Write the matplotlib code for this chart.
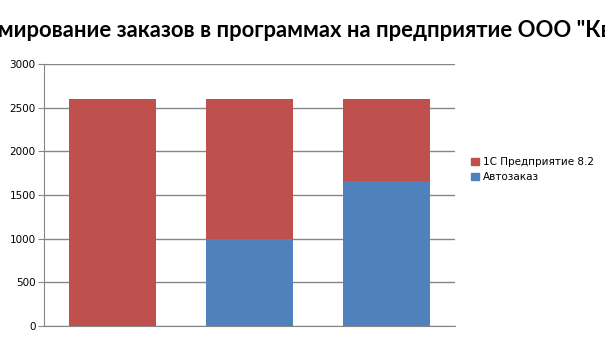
import matplotlib
matplotlib.use("Agg")
import matplotlib.pyplot as plt
from matplotlib.patches import Patch

categories = ["1", "2", "3"]
autozakaz = [0, 1000, 1660]
predpr_1c = [2600, 1600, 940]
series_names = ["1С Предприятие 8.2", "Автозаказ"]
yticks = [0, 500, 1000, 1500, 2000, 2500, 3000]

red = "#C0504D"
blue = "#4F81BD"
grid_c = "#868686"

fig = plt.figure(figsize=(6.05, 3.4), dpi=100)
ax = fig.add_axes([44 / 605, 1 - 326 / 340, 411 / 605, 262 / 340])

x = list(range(len(categories)))
ax.bar(x, autozakaz, width=0.635, color=blue, zorder=3)
ax.bar(x, predpr_1c, width=0.635, bottom=autozakaz, color=red, zorder=3)

ax.set_xlim(-0.5, len(categories) - 0.5)
ax.set_ylim(0, 3000)
ax.set_yticks(yticks)
ax.set_xticks([])
ax.yaxis.grid(True, color=grid_c, linewidth=1, zorder=0)
for s in ["top", "right"]:
    ax.spines[s].set_visible(False)
for s in ["left", "bottom"]:
    ax.spines[s].set_color(grid_c)
ax.tick_params(axis="y", length=4, color=grid_c, labelsize=7.5, pad=2,
               labelcolor="black")
for lbl in ax.get_yticklabels():
    lbl.set_family("DejaVu Sans")

handles = [Patch(color=red), Patch(color=blue)]
fig.legend(handles, series_names, loc="upper left",
           bbox_to_anchor=(466 / 605, 1 - 152 / 340), frameon=False,
           prop={"family": "DejaVu Sans", "size": 7.5},
           handlelength=0.7, handleheight=0.7, handletextpad=0.4,
           labelspacing=0.45, borderpad=0)

# title is wider than the figure; shift it so the first letters fall off the left edge
title = "Формирование заказов в программах на предприятие ООО \"Квант\""
fs = 15.8
fig.canvas.draw()
r = fig.canvas.get_renderer()
probe = fig.text(0, 0, "Фор", fontsize=fs, fontweight="bold", family="Lato")
w = probe.get_window_extent(r).width
probe.remove()
fig.text((-w - 2) / 605, 1 - 37 / 340, title, fontsize=fs,
         fontweight="bold", family="Lato", ha="left", va="baseline")

fig.savefig("out.png", dpi=100)
